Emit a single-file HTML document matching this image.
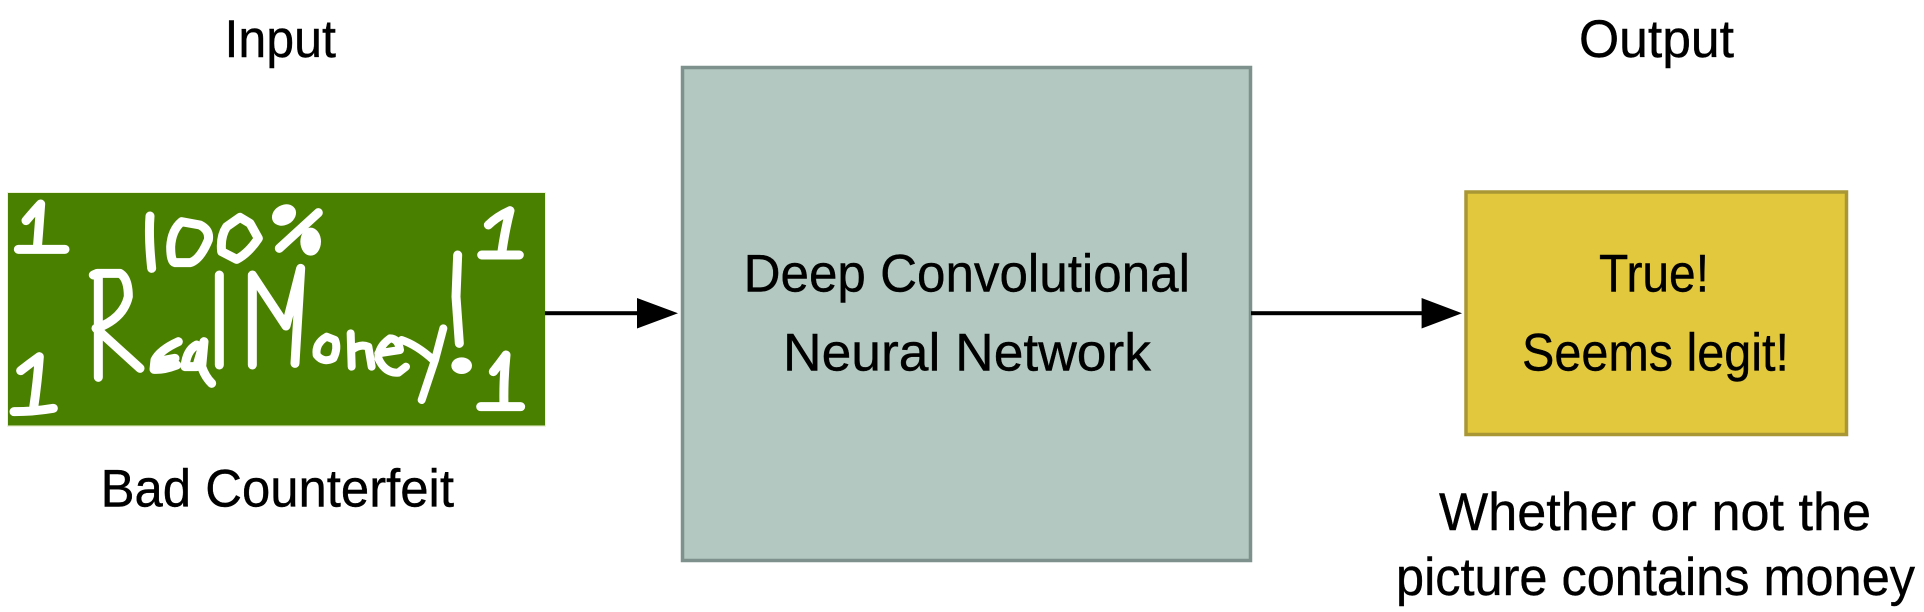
<!DOCTYPE html>
<html>
<head>
<meta charset="utf-8">
<style>
html,body{margin:0;padding:0;background:#fff;width:1924px;height:612px;overflow:hidden}
svg{display:block}
text{font-family:"Liberation Sans",sans-serif;font-size:53px;fill:#000;stroke:#000;stroke-width:.4}
.w path{fill:none;stroke:#fff;stroke-width:27;stroke-linecap:round;stroke-linejoin:round}
.w .f{fill:#fff;stroke:none}
</style>
</head>
<body>
<svg width="1924" height="612" viewBox="0 0 1924 612" xmlns="http://www.w3.org/2000/svg">
<rect width="1924" height="612" fill="#fff"/>

<text x="224.5" y="57" textLength="111.5" lengthAdjust="spacingAndGlyphs">Input</text>
<text x="1579" y="57" textLength="155" lengthAdjust="spacingAndGlyphs">Output</text>

<rect x="7" y="192" width="539" height="235" fill="#eef3d8"/>
<rect x="8" y="193" width="537" height="232.5" fill="#4a8000"/>
<g class="w" transform="translate(0,190) scale(0.33333)">
<path d="M78 92 Q105 60 122 42 Q118 100 112 175 M55 178 H195"/>
<path d="M450 78 Q445 140 455 235"/>
<path d="M545 95 L600 105 Q630 120 625 150 Q600 210 570 218 H525 Q512 215 512 170 Q515 120 545 95 Z"/>
<path d="M720 82 L680 110 Q660 140 665 185 L710 208 Q745 190 775 145 L750 100 Z"/>
<path d="M280 255 L292 250 H360 Q385 265 385 320 Q370 385 290 415 M295 250 L295 562 M288 415 L420 535"/>
<path d="M535 455 Q480 480 465 510 L462 538 Q490 540 530 525 M470 515 L525 505"/>
<path d="M590 465 Q560 480 555 530 L590 530 L612 455 L605 530 Q615 560 635 580"/>
<path d="M658 255 V525"/>
<path d="M757 525 V255 L858 408 L902 235 L885 520"/>
<path d="M62 542 Q90 520 118 500 Q112 580 100 660 M42 665 Q100 665 160 655"/>
</g>
<g class="w" transform="translate(270,190) scale(0.33333)">
<path d="M28 175 L145 68"/>
<ellipse class="f" cx="42" cy="75" rx="38" ry="30" transform="rotate(-30 42 75)"/>
<ellipse class="f" cx="122" cy="155" rx="31" ry="42"/>
<path d="M655 105 Q680 80 720 62 Q705 120 695 190 M635 195 H748"/>
<path d="M670 545 Q690 520 708 495 Q700 570 702 650 M632 650 H752"/>
<path style="stroke-width:24" d="M170 440 Q135 460 140 495 Q160 520 190 505 Q205 475 195 450 Z"/>
<path style="stroke-width:24" d="M242 430 L245 530 M245 480 Q270 460 295 470 L305 530"/>
<path style="stroke-width:24" d="M325 490 L390 480 Q385 445 360 445 Q325 470 325 505 Q345 550 385 548 L408 530"/>
<path style="stroke-width:24" d="M395 450 Q440 465 490 510 M520 415 L495 510 L455 630"/>
<path d="M563 195 L558 320 L568 460"/>
<ellipse class="f" cx="575" cy="527" rx="31" ry="25"/>
</g>

<text x="100.6" y="506.7" textLength="353.4" lengthAdjust="spacingAndGlyphs">Bad Counterfeit</text>

<rect x="545" y="311.2" width="95" height="4" fill="#000"/>
<polygon points="637,298 678,313.2 637,328.5" fill="#000"/>

<rect x="682.5" y="67.5" width="568" height="493" fill="#b2c8c0" stroke="#7f918c" stroke-width="3.5"/>
<text x="743.6" y="291.7" textLength="446.4" lengthAdjust="spacingAndGlyphs">Deep Convolutional</text>
<text x="783" y="370.7" textLength="368" lengthAdjust="spacingAndGlyphs">Neural Network</text>

<rect x="1251" y="311.2" width="173" height="4" fill="#000"/>
<polygon points="1421.6,298 1462,313.2 1421.6,328.5" fill="#000"/>

<rect x="1466" y="192" width="380.5" height="242.5" fill="#e2c83c" stroke="#a89734" stroke-width="3.5"/>
<text x="1599" y="291.7" textLength="110" lengthAdjust="spacingAndGlyphs">True!</text>
<text x="1522" y="370.7" textLength="267" lengthAdjust="spacingAndGlyphs">Seems legit!</text>

<text x="1439" y="530" textLength="432" lengthAdjust="spacingAndGlyphs">Whether or not the</text>
<text x="1396" y="595" textLength="519" lengthAdjust="spacingAndGlyphs">picture contains money</text>
</svg>
</body>
</html>
